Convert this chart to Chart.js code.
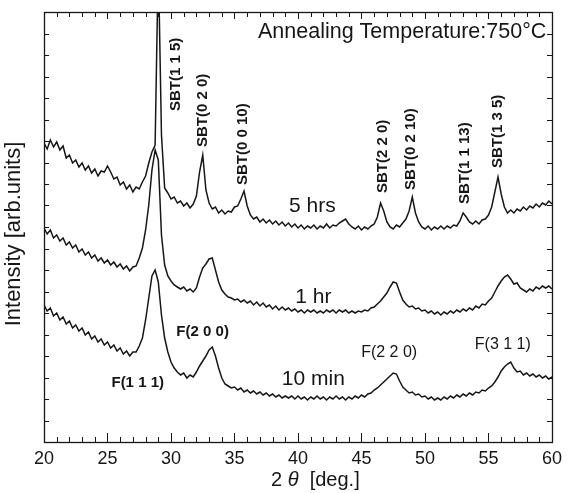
<!DOCTYPE html>
<html><head><meta charset="utf-8">
<script src="https://cdn.jsdelivr.net/npm/chart.js@4"></script>
<style>html,body{margin:0;padding:0;background:#fff}#wrap{width:568px;height:493px}</style>
</head><body>
<div id="wrap"><canvas id="c" width="568" height="493"></canvas></div>
<script>
// 2θ sampling (deg), 20 → 60 in 0.25° steps
const twoTheta = [];
for (let i = 0; i <= 160; i++) twoTheta.push(20 + i * 0.25);

// Intensities (arb. units)
const series5hrs = [
  299,293,302,295,300,292,296,284,
  287,279,282,275,279,272,276,269,
  273,266,271,270,276,270,263,265,
  257,260,253,257,250,255,253,260,
  266,279,290,297,482,307,254,249,
  243,245,239,241,236,239,234,238,
  246,270,287,252,239,233,235,229,
  232,228,231,230,235,236,243,251,
  236,227,223,225,220,223,219,222,
  218,221,217,220,216,219,215,218,
  214,217,213,216,214,217,213,216,
  214,218,214,217,216,219,221,223,
  218,215,213,216,212,215,213,216,
  218,225,239,231,220,215,213,217,
  215,219,223,231,245,229,220,215,
  213,216,212,215,213,216,213,216,
  214,217,216,221,229,225,220,218,
  221,218,222,223,227,235,250,265,
  248,235,229,232,229,233,231,235,
  232,236,234,238,235,239,237,241,
  238
];
const series1hr = [
  214,208,212,204,207,201,204,197,
  200,194,197,190,193,187,190,184,
  187,181,184,179,182,177,180,175,
  178,173,176,171,175,176,184,194,
  212,237,272,292,282,207,177,166,
  161,157,155,153,155,151,153,150,
  154,165,174,178,183,184,172,160,
  152,148,145,144,142,143,140,142,
  139,141,137,140,136,139,135,137,
  133,136,132,135,132,134,131,133,
  130,132,129,132,130,132,129,131,
  129,132,130,132,129,132,130,132,
  129,131,129,131,130,132,131,134,
  135,138,141,145,149,155,160,159,
  150,142,138,135,136,133,134,131,
  132,129,131,128,130,127,130,128,
  131,129,132,130,133,131,134,132,
  136,134,138,137,141,144,150,156,
  161,165,167,163,158,159,154,152,
  150,153,151,155,153,156,154,156,
  153
];
const series10min = [
  137,131,134,126,129,122,125,118,
  121,114,117,111,114,107,110,103,
  106,100,103,97,100,94,97,91,
  94,88,91,86,90,90,96,104,
  122,144,166,172,160,127,104,90,
  80,74,70,67,69,64,67,65,
  70,76,81,86,92,95,86,74,
  64,58,56,54,55,52,54,50,
  52,49,51,48,50,47,49,46,
  48,45,47,44,46,44,46,43,
  46,43,45,42,45,43,46,43,
  45,42,45,43,46,43,45,42,
  45,43,46,44,47,45,48,49,
  52,54,57,60,63,66,69,68,
  61,55,52,49,50,47,48,45,
  46,43,45,42,44,42,45,43,
  46,44,47,45,48,46,49,47,
  50,49,52,51,54,56,60,65,
  71,75,78,80,74,70,71,67,
  69,66,68,65,67,64,66,63,
  65
];

const xTickLabels = [20, 25, 30, 35, 40, 45, 50, 55, 60];
const peakLabels = ['SBT(1 1 5)','SBT(0 2 0)','SBT(0 0 10)','SBT(2 2 0)','SBT(0 2 10)','SBT(1 1 13)','SBT(1 3 5)'];
const peakLabelAt = [[30.37,331],[32.49,295],[35.63,257],[46.71,249],[48.91,252],[53.15,238],[55.74,274]];
const curveLabels = ['5 hrs','1 hr','10 min'];
const curveLabelAt = [[41.13,236],[41.21,145],[41.21,63]];
const phaseLabels = ['F(2 0 0)','F(1 1 1)','F(2 2 0)','F(3 1 1)'];
const phaseLabelAt = [[32.49,110],[27.38,59],[47.18,89],[56.13,97]];
const titleText = 'Annealing Temperature:750\u00B0C';

const FONT = '"Liberation Sans", Arial, sans-serif';
const INK = '#161616';
const Y_MAX = 430, Y_STEP = 21.5;

const mk = (d) => d.map((v, i) => ({x: twoTheta[i], y: v}));

const decor = {
  id: 'decor',
  afterDraw(chart) {
    const {ctx, chartArea: a, scales: {x, y}} = chart;
    ctx.save();
    ctx.strokeStyle = INK;
    ctx.lineWidth = 1.3;
    ctx.strokeRect(a.left + 0.5, a.top + 0.5, a.right - a.left, a.bottom - a.top);
    ctx.lineWidth = 1;
    ctx.beginPath();
    for (let v = 20; v <= 60; v++) {
      const px = Math.round(x.getPixelForValue(v)) + 0.5;
      const major = v % 5 === 0;
      ctx.moveTo(px, a.bottom); ctx.lineTo(px, a.bottom - (major ? 9 : 5));
      ctx.moveTo(px, a.top); ctx.lineTo(px, a.top + (major ? 7 : 5));
    }
    for (let k = 1; k * Y_STEP < Y_MAX; k++) {
      const py = Math.round(y.getPixelForValue(k * Y_STEP)) + 0.5;
      ctx.moveTo(a.left, py); ctx.lineTo(a.left + 5, py);
      ctx.moveTo(a.right, py); ctx.lineTo(a.right - 5, py);
    }
    ctx.stroke();

    ctx.fillStyle = INK;
    ctx.font = 'bold 15px ' + FONT;
    ctx.textAlign = 'left'; ctx.textBaseline = 'middle';
    peakLabels.forEach((t, i) => {
      const [vx, vy] = peakLabelAt[i];
      ctx.save();
      ctx.translate(x.getPixelForValue(vx), y.getPixelForValue(vy));
      ctx.rotate(-Math.PI / 2);
      ctx.fillText(t, 0, 0);
      ctx.restore();
    });
    ctx.textAlign = 'center';
    ctx.font = '21px ' + FONT;
    curveLabels.forEach((t, i) => {
      const [vx, vy] = curveLabelAt[i];
      ctx.fillText(t, x.getPixelForValue(vx), y.getPixelForValue(vy));
    });
    phaseLabels.forEach((t, i) => {
      ctx.font = (i < 2 ? 'bold 15px ' : '16px ') + FONT;
      const [vx, vy] = phaseLabelAt[i];
      ctx.fillText(t, x.getPixelForValue(vx), y.getPixelForValue(vy));
    });
    ctx.font = '21.5px ' + FONT;
    ctx.fillText(titleText, x.getPixelForValue(48.2), y.getPixelForValue(410));

    ctx.save();
    ctx.font = '22px ' + FONT;
    ctx.translate(a.left - 30, y.getPixelForValue(208));
    ctx.rotate(-Math.PI / 2);
    ctx.fillText('Intensity [arb.units]', 0, 0);
    ctx.restore();

    const parts = [['2 ', '20px ' + FONT], ['\u03B8', 'italic 20px ' + FONT], ['  [deg.]', '20px ' + FONT]];
    let total = 0;
    parts.forEach(p => { ctx.font = p[1]; total += ctx.measureText(p[0]).width; });
    let sx = x.getPixelForValue(41.37) - total / 2;
    const sy = a.bottom + 38;
    ctx.textAlign = 'left';
    parts.forEach(p => { ctx.font = p[1]; ctx.fillText(p[0], sx, sy); sx += ctx.measureText(p[0]).width; });
    ctx.restore();
  }
};

const lineDs = (label, d) => ({
  label, data: mk(d), borderColor: INK, borderWidth: 1.5,
  pointRadius: 0, tension: 0, fill: false
});

new Chart(document.getElementById('c'), {
  type: 'line',
  data: { datasets: [lineDs('5 hrs', series5hrs), lineDs('1 hr', series1hr), lineDs('10 min', series10min)] },
  options: {
    responsive: false, animation: false, devicePixelRatio: 1,
    layout: { padding: { top: 12, right: 15, left: 0, bottom: 0 } },
    plugins: { legend: { display: false }, tooltip: { enabled: false } },
    scales: {
      x: {
        type: 'linear', min: 20, max: 60,
        afterFit: (s) => { s.height = 51; },
        afterBuildTicks: (s) => { s.ticks = xTickLabels.map(v => ({value: v})); },
        grid: { display: false, drawTicks: false }, border: { display: false },
        ticks: { font: { size: 18, family: FONT }, color: INK, padding: 6, maxRotation: 0, autoSkip: false }
      },
      y: {
        min: 0, max: Y_MAX,
        afterFit: (s) => { s.width = 44; },
        grid: { display: false, drawTicks: false }, border: { display: false },
        ticks: { display: false }
      }
    }
  },
  plugins: [decor]
});
</script>
</body></html>
